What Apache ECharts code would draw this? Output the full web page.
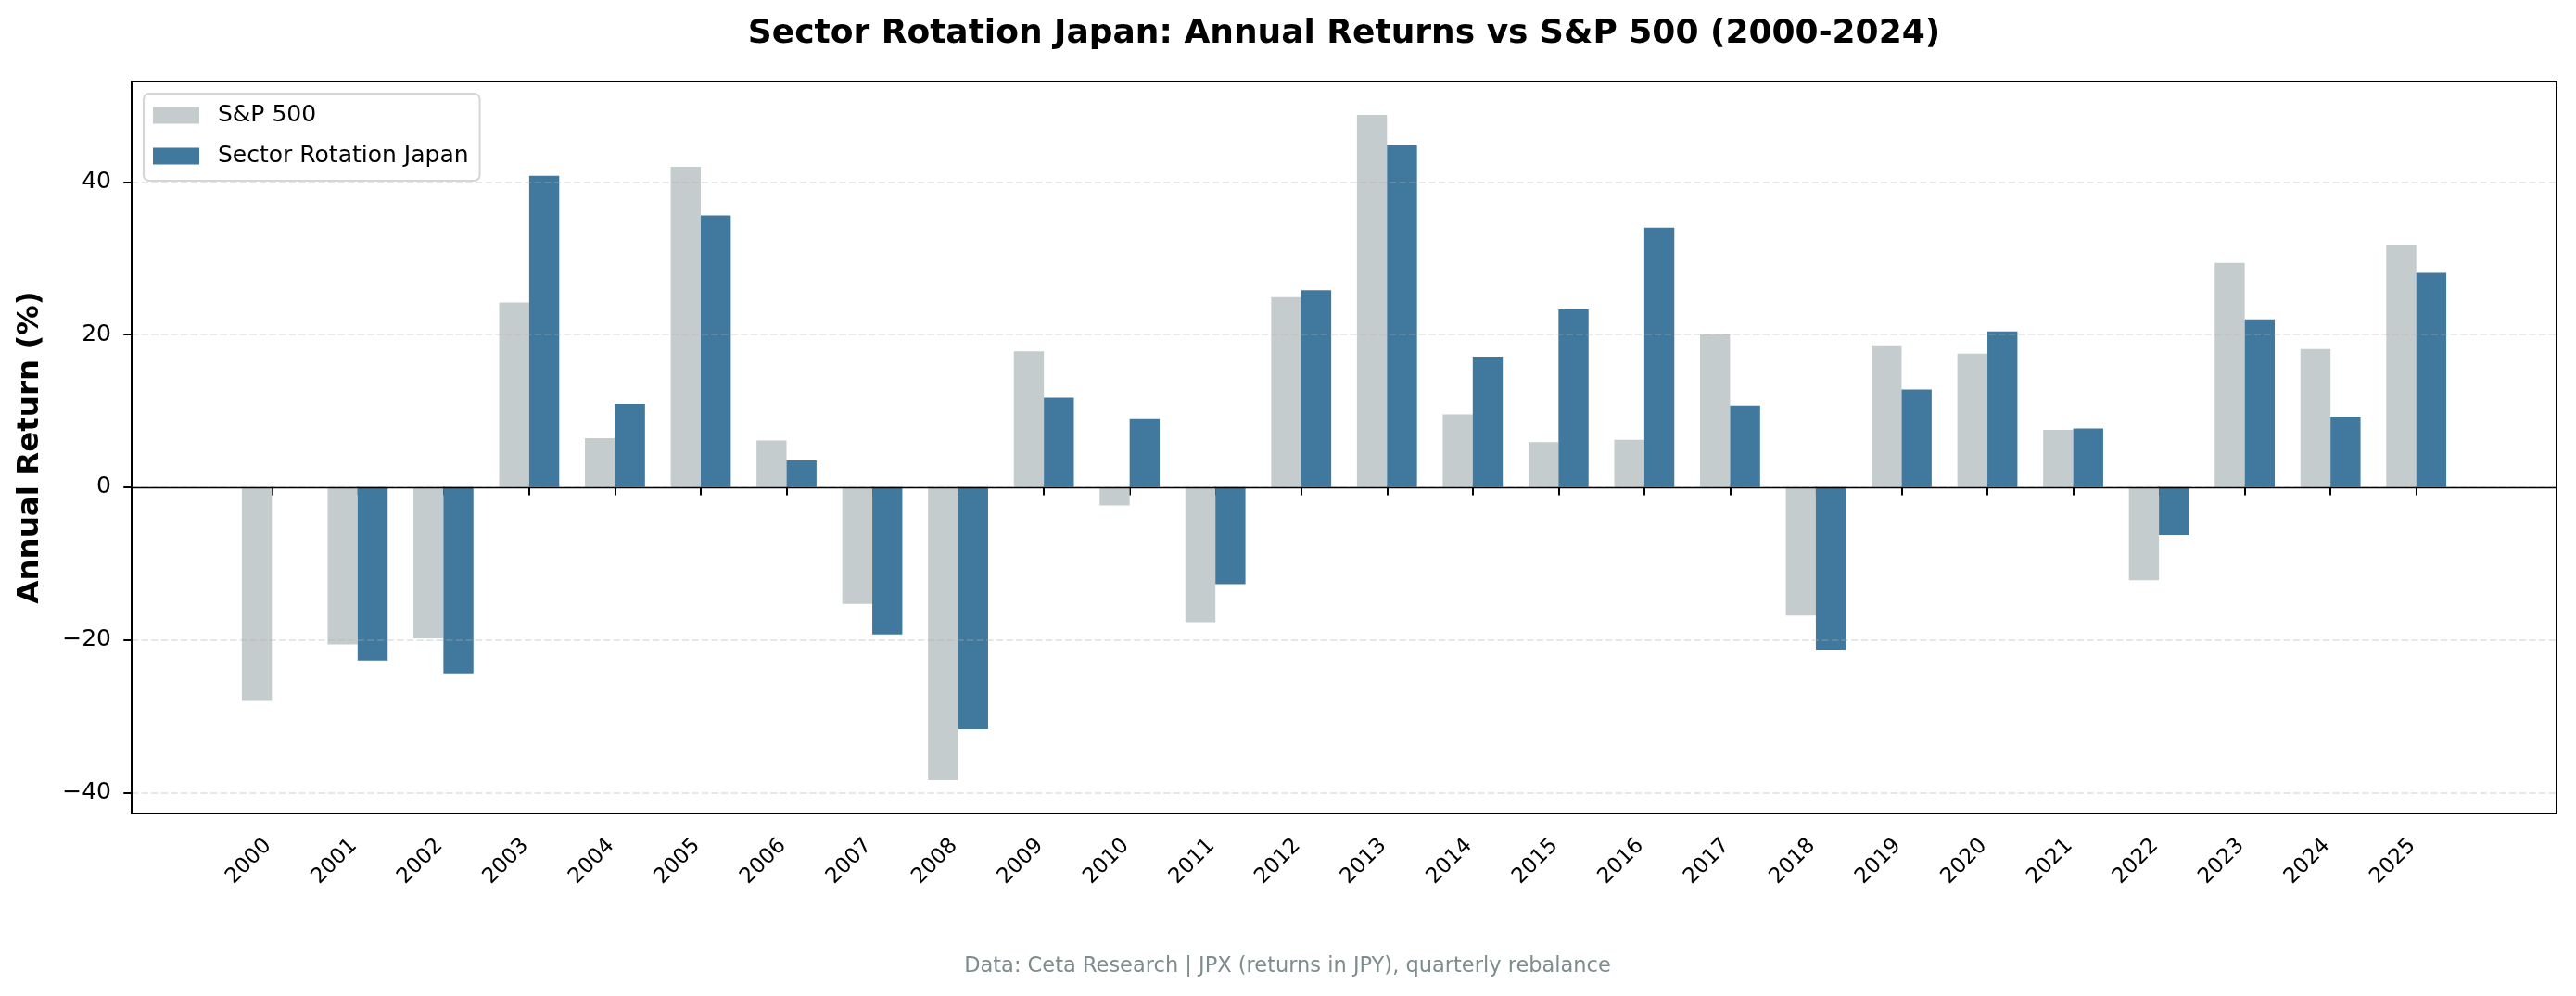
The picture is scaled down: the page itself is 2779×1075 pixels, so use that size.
<!DOCTYPE html>
<html>
<head>
<meta charset="utf-8">
<script src="https://cdn.jsdelivr.net/npm/echarts@6/dist/echarts.min.js"></script>
<style>
html,body{margin:0;padding:0;background:#fff;}
#chart{width:2779px;height:1075px;}
</style>
</head>
<body>
<div id="chart"></div>
<script>
const years = ['2000','2001','2002','2003','2004','2005','2006','2007','2008','2009','2010','2011','2012',
  '2013','2014','2015','2016','2017','2018','2019','2020','2021','2022','2023','2024','2025'];
const sp500 = [-28.0,-20.6,-19.8,24.2,6.4,42.0,6.1,-15.3,-38.4,17.8,-2.4,-17.7,24.9,
  48.8,9.5,5.9,6.2,20.0,-16.8,18.6,17.5,7.5,-12.2,29.4,18.1,31.8];
const strategy = [null,-22.7,-24.4,40.8,10.9,35.6,3.5,-19.3,-31.7,11.7,9.0,-12.7,25.8,
  44.8,17.1,23.3,34.0,10.7,-21.4,12.8,20.4,7.7,-6.2,22.0,9.2,28.1];
const yTicks = {min: -40, max: 40, step: 20};
const yLimits = {min: -42.76, max: 53.16};

const FONT = 'DejaVu Sans';
const chart = echarts.init(document.getElementById('chart'), null, {renderer: 'canvas'});

const frame = {left: 142, right: 21, top: 88, bottom: 197};
const unitPx = (2779 - frame.left - frame.right) / 28.27;
const inset = 1.135 * unitPx;
const plotH = 1075 - frame.top - frame.bottom;
const pxPerUnit = plotH / (yLimits.max - yLimits.min);
const tickTop = frame.top + (yLimits.max - yTicks.max) * pxPerUnit;
const tickBottom = 1075 - (frame.top + (yLimits.max - yTicks.min) * pxPerUnit);

const option = {
  backgroundColor: '#ffffff',
  animation: false,
  textStyle: {fontFamily: FONT},
  grid: [
    {left: frame.left, right: frame.right, top: frame.top, bottom: frame.bottom,
     show: true, borderColor: '#000', borderWidth: 2, backgroundColor: 'transparent', z: 5},
    {left: frame.left + inset, right: frame.right + inset, top: frame.top, bottom: frame.bottom},
    {left: frame.left, right: frame.right, top: tickTop, bottom: tickBottom}
  ],
  xAxis: [
    {gridIndex: 0, type: 'value', min: 0, max: 1,
     axisLine: {show: true, onZero: true, lineStyle: {color: '#000', width: 1.3}},
     axisTick: {show: false}, axisLabel: {show: false}, splitLine: {show: false}, z: 6},
    {gridIndex: 1, type: 'category', data: years, boundaryGap: true,
     axisLine: {show: false},
     axisTick: {show: true, alignWithLabel: true, length: 8.75, lineStyle: {color: '#000', width: 2}},
     axisLabel: {interval: 0, rotate: 45, fontSize: 23, color: '#000', fontFamily: FONT, margin: 27,
       padding: [0, 6, 0, 0]}},
    {gridIndex: 2, type: 'value', min: 0, max: 1, show: false}
  ],
  yAxis: [
    {gridIndex: 0, type: 'value', min: yLimits.min, max: yLimits.max,
     axisLine: {show: false}, axisTick: {show: false}, axisLabel: {show: false}, splitLine: {show: false},
     name: 'Annual Return (%)', nameLocation: 'middle', nameGap: 93,
     nameTextStyle: {fontSize: 32.5, fontWeight: 'bold', color: '#000', fontFamily: FONT}},
    {gridIndex: 1, type: 'value', min: yLimits.min, max: yLimits.max, show: false},
    {gridIndex: 2, type: 'value', min: yTicks.min, max: yTicks.max, interval: yTicks.step, z: 3,
     axisLine: {show: false},
     axisTick: {show: true, length: 8.75, lineStyle: {color: '#000', width: 2}},
     axisLabel: {fontSize: 25, color: '#000', fontFamily: FONT, margin: 22,
       formatter: v => String(v).replace('-', '\u2212')},
     splitLine: {show: true, lineStyle: {color: 'rgba(176,176,176,0.3)', width: 2, type: [7.4, 3.2]}}}
  ],
  legend: {
    left: 155, top: 101, orient: 'vertical',
    itemWidth: 50, itemHeight: 18, itemGap: 19,
    padding: [11, 12, 14, 10],
    backgroundColor: 'rgba(255,255,255,0.8)', borderColor: '#d5d5d5', borderWidth: 2, borderRadius: 6,
    textStyle: {fontSize: 25, color: '#000', fontFamily: FONT, lineHeight: 18, padding: [0, 0, 0, 15]},
    data: [{name: 'S&P 500', icon: 'rect'}, {name: 'Sector Rotation Japan', icon: 'rect'}],
    z: 10
  },
  graphic: [
    {type: 'text', x: 1450, y: 37, style: {text: 'Sector Rotation Japan: Annual Returns vs S&P 500 (2000-2024)',
      font: 'bold 36px "DejaVu Sans"', fill: '#000', textAlign: 'center', textVerticalAlign: 'middle'}},
    {type: 'text', x: 1389, y: 1043, style: {text: 'Data: Ceta Research | JPX (returns in JPY), quarterly rebalance',
      font: '22.5px "DejaVu Sans"', fill: '#7f8c8d', textAlign: 'center', textVerticalAlign: 'middle'}}
  ],
  series: [
    {name: 'S&P 500', type: 'bar', xAxisIndex: 1, yAxisIndex: 1, data: sp500,
     barWidth: '35%', barGap: '0%', itemStyle: {color: '#c4cccd'}},
    {name: 'Sector Rotation Japan', type: 'bar', xAxisIndex: 1, yAxisIndex: 1, data: strategy,
     barWidth: '35%', barGap: '0%', itemStyle: {color: '#41799e'}}
  ]
};
chart.setOption(option);
</script>
</body>
</html>
